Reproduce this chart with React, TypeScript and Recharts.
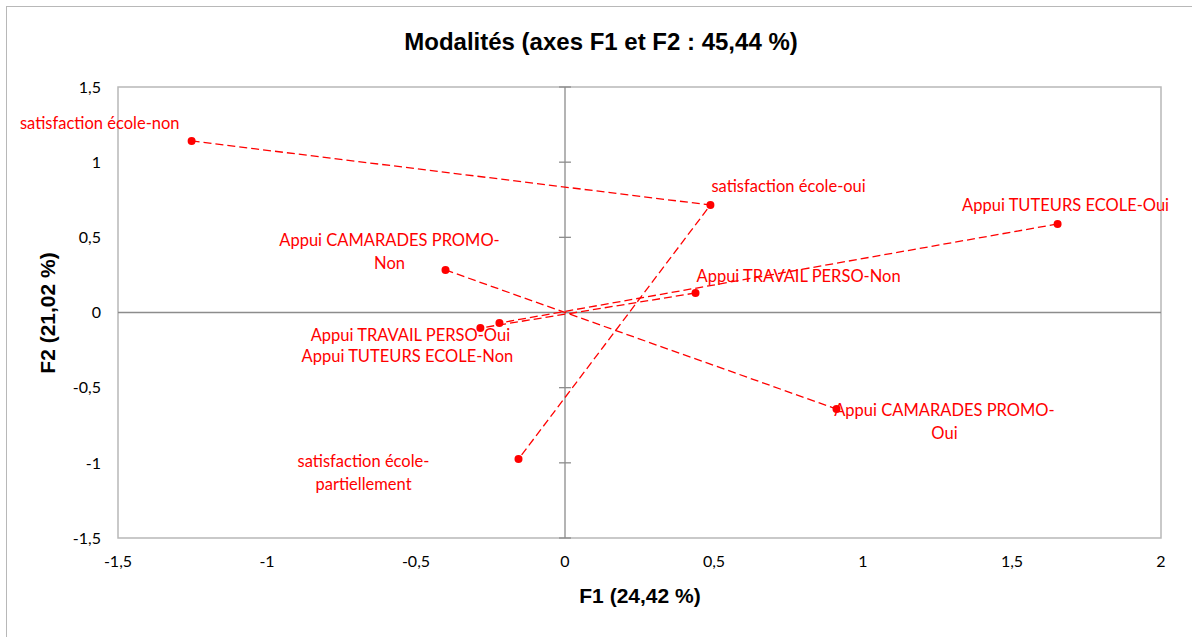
import { ScatterChart, Scatter, XAxis, YAxis, ReferenceLine, ReferenceArea } from "recharts";

const xTicks = [-1.5, -1, -0.5, 0, 0.5, 1, 1.5, 2];
const yTicks = [-1.5, -1, -0.5, 0, 0.5, 1, 1.5];

const satisfaction = [
  { name: "satisfaction école-non", x: -1.253, y: 1.141 },
  { name: "satisfaction école-oui", x: 0.488, y: 0.715 },
  { name: "satisfaction école-partiellement", x: -0.156, y: -0.975 },
];
const tuteurs = [
  { name: "Appui TUTEURS ECOLE-Oui", x: 1.653, y: 0.589 },
  { name: "Appui TUTEURS ECOLE-Non", x: -0.22, y: -0.07 },
];
const travail = [
  { name: "Appui TRAVAIL PERSO-Non", x: 0.438, y: 0.13 },
  { name: "Appui TRAVAIL PERSO-Oui", x: -0.284, y: -0.103 },
];
const camarades = [
  { name: "Appui CAMARADES PROMO-Non", x: -0.401, y: 0.283 },
  { name: "Appui CAMARADES PROMO-Oui", x: 0.911, y: -0.642 },
];

// label placement relative to the marker (px), like the hand-moved Excel labels
const labelLayout: Record<string, { dx: number; dy: number; anchor: "start" | "middle" | "end"; wrap?: boolean }> = {
  "satisfaction école-non": { dx: -12, dy: -18, anchor: "end" },
  "satisfaction école-oui": { dx: 1, dy: -19, anchor: "start" },
  "satisfaction école-partiellement": { dx: -155, dy: 2, anchor: "middle", wrap: true },
  "Appui TUTEURS ECOLE-Oui": { dx: 8, dy: -19, anchor: "middle" },
  "Appui TUTEURS ECOLE-Non": { dx: -92, dy: 33, anchor: "middle" },
  "Appui TRAVAIL PERSO-Non": { dx: 1, dy: -17, anchor: "start" },
  "Appui TRAVAIL PERSO-Oui": { dx: -70, dy: 7, anchor: "middle" },
  "Appui CAMARADES PROMO-Non": { dx: -56, dy: -30, anchor: "middle", wrap: true },
  "Appui CAMARADES PROMO-Oui": { dx: 108, dy: 1, anchor: "middle", wrap: true },
};

const RED = "#ff0000";
const fmt = (v: number) => String(v).replace(".", ",");

function PointWithLabel(props: any) {
  const { cx, cy, payload } = props;
  const lay = labelLayout[payload.name];
  let lines = [payload.name];
  if (lay.wrap) {
    const i = payload.name.lastIndexOf("-");
    lines = [payload.name.slice(0, i + 1), payload.name.slice(i + 1)];
  }
  return (
    <g>
      <circle cx={cx} cy={cy} r={4} fill={RED} />
      {lines.map((l, i) => (
        <text
          key={i}
          x={cx + lay.dx}
          y={cy + lay.dy + i * 23}
          textAnchor={lay.anchor}
          dominantBaseline="central"
          fill={RED}
          fontSize={16.5}
          fontFamily="Lato, sans-serif"
        >
          {l}
        </text>
      ))}
    </g>
  );
}

const lineStyle = { stroke: RED, strokeWidth: 1.3, strokeDasharray: "8 4" };

export default function App() {
  return (
    <div style={{ position: "relative", width: 1192, height: 637, background: "#fff", overflow: "hidden" }}>
      <style>{`body{margin:0}`}</style>
      <div
        style={{
          position: "absolute",
          left: 6,
          top: 6,
          width: 1300,
          height: 700,
          borderLeft: "1px solid #b8b8b8",
          borderTop: "1px solid #b8b8b8",
        }}
      />
      <div
        style={{
          position: "absolute",
          left: 0,
          width: 1202,
          top: 28,
          textAlign: "center",
          fontFamily: "'Liberation Sans', Arial, sans-serif",
          fontWeight: "bold",
          fontSize: 24,
          color: "#000",
        }}
      >
        Modalités (axes F1 et F2 : 45,44 %)
      </div>
      <div
        style={{
          position: "absolute",
          left: 0,
          width: 1280,
          top: 584,
          textAlign: "center",
          fontFamily: "'Liberation Sans', Arial, sans-serif",
          fontWeight: "bold",
          fontSize: 21,
          color: "#000",
        }}
      >
        F1 (24,42 %)
      </div>
      <div
        style={{
          position: "absolute",
          left: 48,
          top: 313,
          transform: "translate(-50%, -50%) rotate(-90deg)",
          whiteSpace: "nowrap",
          fontFamily: "'Liberation Sans', Arial, sans-serif",
          fontWeight: "bold",
          fontSize: 21,
          color: "#000",
        }}
      >
        F2 (21,02 %)
      </div>
      <div style={{ position: "absolute", left: 0, top: 0 }}>
        <ScatterChart width={1192} height={637} margin={{ top: 87, right: 31, left: 78, bottom: 69 }}>
          <XAxis
            type="number"
            dataKey="x"
            domain={[-1.5, 2]}
            ticks={xTicks}
            tickFormatter={fmt}
            axisLine={false}
            tickLine={false}
            tickSize={0}
            tickMargin={18}
            height={30}
            tick={{ fill: "#000", fontSize: 16, fontFamily: "Lato, sans-serif" }}
          />
          <YAxis
            type="number"
            dataKey="y"
            domain={[-1.5, 1.5]}
            ticks={yTicks}
            tickFormatter={fmt}
            axisLine={false}
            tickLine={false}
            tickSize={0}
            tickMargin={17}
            width={40}
            tick={{ fill: "#000", fontSize: 16, fontFamily: "Lato, sans-serif" }}
          />
          <ReferenceArea x1={-1.5} x2={2} y1={-1.5} y2={1.5} fill="none" stroke="#b8b8b8" strokeWidth={1.5} />
          <ReferenceLine x={0} stroke="#8c8c8c" strokeWidth={1.3} />
          <ReferenceLine y={0} stroke="#8c8c8c" strokeWidth={1.3} />
          {yTicks.map((t) => (
            <ReferenceLine
              key={t}
              segment={[
                { x: -0.02, y: t },
                { x: 0.02, y: t },
              ]}
              stroke="#8c8c8c"
              strokeWidth={1.3}
            />
          ))}
          <Scatter data={satisfaction} line={lineStyle} shape={PointWithLabel} isAnimationActive={false} />
          <Scatter data={tuteurs} line={lineStyle} shape={PointWithLabel} isAnimationActive={false} />
          <Scatter data={travail} line={lineStyle} shape={PointWithLabel} isAnimationActive={false} />
          <Scatter data={camarades} line={lineStyle} shape={PointWithLabel} isAnimationActive={false} />
        </ScatterChart>
      </div>
    </div>
  );
}
